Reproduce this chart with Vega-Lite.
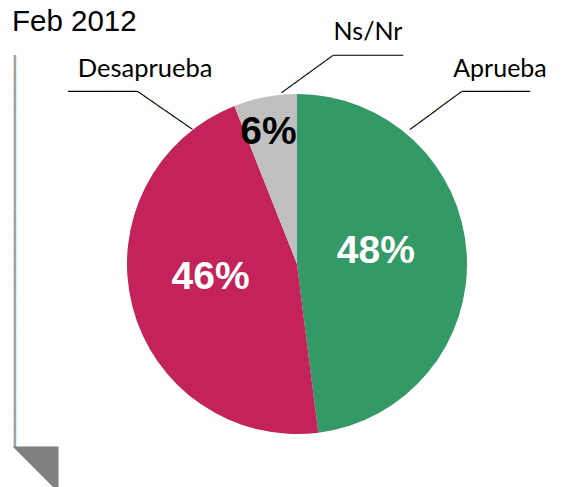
{
  "$schema": "https://vega.github.io/schema/vega-lite/v6.json",
  "autosize": {"type": "none"},
  "padding": {"left": 31, "top": 41, "right": 0, "bottom": 0},
  "width": 532,
  "height": 446,
  "background": "white",
  "view": {"stroke": null},
  "title": {"text": "Feb 2012", "anchor": "start", "frame": "group", "dx": -19, "dy": 51, "offset": 10, "baseline": "alphabetic", "font": "Liberation Sans", "fontSize": 29.5, "fontWeight": "normal", "color": "black"},
  "data": {"values": [
    {"cat": "Aprueba", "v": 0.48},
    {"cat": "Desaprueba", "v": 0.46},
    {"cat": "Ns/Nr", "v": 0.06}
  ]},
  "layer": [
    {
      "mark": {"type": "arc", "outerRadius": 170},
      "encoding": {
        "theta": {"field": "v", "type": "quantitative", "stack": true},
        "order": {"field": "v", "type": "quantitative", "sort": "descending"},
        "color": {"field": "cat", "type": "nominal", "scale": {"domain": ["Aprueba", "Desaprueba", "Ns/Nr"], "range": ["#339966", "#C4225A", "#C0C0C0"]}, "legend": null}
      }
    },
    {
      "mark": {"type": "text", "font": "Liberation Sans", "fontWeight": "bold", "fontSize": 39, "dx": -5, "dy": -8, "baseline": "middle", "align": "center"},
      "encoding": {
        "theta": {"field": "v", "type": "quantitative", "stack": true},
        "order": {"field": "v", "type": "quantitative", "sort": "descending"},
        "detail": {"field": "cat", "type": "nominal"},
        "radius": {"value": 84},
        "text": {"field": "v", "type": "quantitative", "format": ".0%"},
        "color": {"value": "white"},
        "opacity": {"condition": {"test": "datum.cat == 'Ns/Nr'", "value": 0}, "value": 1}
      }
    },
    {
      "mark": {"type": "text", "font": "Liberation Sans", "fontWeight": "bold", "fontSize": 39, "dx": -3, "dy": 2, "baseline": "middle", "align": "center"},
      "encoding": {
        "theta": {"field": "v", "type": "quantitative", "stack": true},
        "order": {"field": "v", "type": "quantitative", "sort": "descending"},
        "detail": {"field": "cat", "type": "nominal"},
        "radius": {"value": 136},
        "text": {"field": "v", "type": "quantitative", "format": ".0%"},
        "color": {"value": "black"},
        "opacity": {"condition": {"test": "datum.cat == 'Ns/Nr'", "value": 1}, "value": 0}
      }
    },
    {
      "transform": [{"filter": "datum.cat == 'Aprueba'"}],
      "mark": {"type": "text", "font": "Lato", "fontSize": 25, "baseline": "alphabetic", "align": "center"},
      "encoding": {"theta": {"value": 0.8264}, "radius": {"value": 276}, "text": {"field": "cat", "type": "nominal"}, "color": {"value": "black"}}
    },
    {
      "transform": [{"filter": "datum.cat == 'Desaprueba'"}],
      "mark": {"type": "text", "font": "Lato", "fontSize": 25.5, "baseline": "alphabetic", "align": "center"},
      "encoding": {"theta": {"value": 5.601}, "radius": {"value": 241}, "text": {"field": "cat", "type": "nominal"}, "color": {"value": "black"}}
    },
    {
      "transform": [{"filter": "datum.cat == 'Ns/Nr'"}],
      "mark": {"type": "text", "font": "Lato", "fontSize": 25, "baseline": "alphabetic", "align": "center"},
      "encoding": {"theta": {"value": 0.307}, "radius": {"value": 235}, "text": {"field": "cat", "type": "nominal"}, "color": {"value": "black"}}
    },
    {
      "transform": [{"filter": "datum.cat == 'Aprueba'"}],
      "mark": {"type": "text", "font": "DejaVu Sans Mono", "fontSize": 13.37, "angle": -36.2, "baseline": "middle", "align": "center"},
      "encoding": {"theta": {"value": 0.7376}, "radius": {"value": 206.7}, "text": {"value": "────────"}, "color": {"value": "black"}}
    },
    {
      "transform": [{"filter": "datum.cat == 'Aprueba'"}],
      "mark": {"type": "text", "font": "DejaVu Sans Mono", "fontSize": 14.12, "baseline": "middle", "align": "center"},
      "encoding": {"theta": {"value": 0.8582}, "radius": {"value": 263.0}, "text": {"value": "────────"}, "color": {"value": "black"}}
    },
    {
      "transform": [{"filter": "datum.cat == 'Desaprueba'"}],
      "mark": {"type": "text", "font": "DejaVu Sans Mono", "fontSize": 13.89, "angle": 34.6, "baseline": "middle", "align": "center"},
      "encoding": {"theta": {"value": 5.5695}, "radius": {"value": 202.4}, "text": {"value": "────────"}, "color": {"value": "black"}}
    },
    {
      "transform": [{"filter": "datum.cat == 'Desaprueba'"}],
      "mark": {"type": "text", "font": "DejaVu Sans Mono", "fontSize": 14.33, "baseline": "middle", "align": "center"},
      "encoding": {"theta": {"value": 5.4364}, "radius": {"value": 259.6}, "text": {"value": "────────"}, "color": {"value": "black"}}
    },
    {
      "transform": [{"filter": "datum.cat == 'Ns/Nr'"}],
      "mark": {"type": "text", "font": "DejaVu Sans Mono", "fontSize": 13.08, "angle": -36.0, "baseline": "middle", "align": "center"},
      "encoding": {"theta": {"value": 0.0553}, "radius": {"value": 189.8}, "text": {"value": "────────"}, "color": {"value": "black"}}
    },
    {
      "transform": [{"filter": "datum.cat == 'Ns/Nr'"}],
      "mark": {"type": "text", "font": "DejaVu Sans Mono", "fontSize": 14.53, "baseline": "middle", "align": "center"},
      "encoding": {"theta": {"value": 0.329}, "radius": {"value": 219.8}, "text": {"value": "────────"}, "color": {"value": "black"}}
    },
    {
      "transform": [{"filter": "datum.cat == 'Aprueba'"}],
      "mark": {"type": "text", "font": "DejaVu Sans Mono", "fontSize": 14.16, "angle": 90, "baseline": "middle", "align": "center"},
      "encoding": {"theta": {"value": 4.7583}, "radius": {"value": 283.3}, "text": {"value": "━━━━━━━━━━━━━━━━━━━━━━━━━━━━━━━━━━━━━━━━━━━━━━"}, "color": {"value": "#A0A0A0"}}
    },
    {
      "transform": [{"filter": "datum.cat == 'Aprueba'"}],
      "mark": {"type": "text", "font": "DejaVu Sans", "fontSize": 60, "baseline": "middle", "align": "center"},
      "encoding": {"theta": {"value": 4.052}, "radius": {"value": 331}, "text": {"value": "◥"}, "color": {"value": "#808080"}}
    }
  ]
}
